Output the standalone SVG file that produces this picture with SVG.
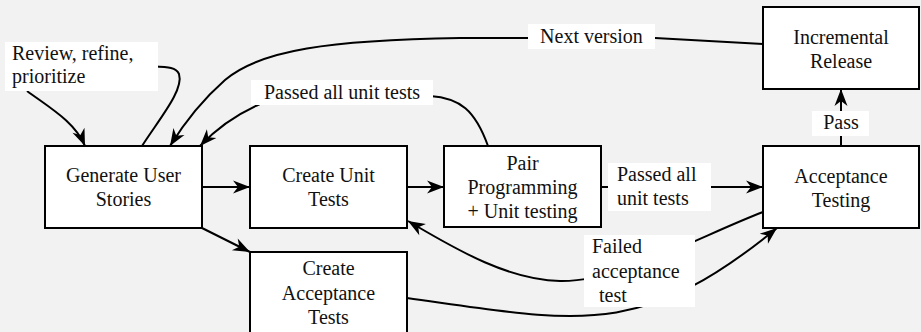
<svg xmlns="http://www.w3.org/2000/svg" width="921" height="332" viewBox="0 0 921 332">
<style>
.box{fill:#fff;stroke:#000;stroke-width:2}
.lbl{fill:#fff;stroke:none}
.c{text-anchor:middle}
.ln{fill:none;stroke:#000;stroke-width:2}
.arr{fill:none;stroke:#000;stroke-width:2;marker-end:url(#ah)}
</style>
<defs>
<marker id="ah" markerUnits="userSpaceOnUse" markerWidth="18" markerHeight="14" refX="17" refY="7" orient="auto" overflow="visible">
<path d="M0,0.5 L17,7 L0,13.5 L5,7 z" fill="#000"/>
</marker>
</defs>
<rect x="0" y="0" width="921" height="332" fill="#f2f2f2"/>
<g id="connectors">
<path class="arr" d="M202,187 L250,187"/>
<path class="arr" d="M407,187 L444,187"/>
<path class="arr" d="M601,187 L763,187"/>
<path class="arr" d="M202,228 L250,252"/>
<path class="arr" d="M407,298 C580,322 640,340 777,228"/>
<path class="arr" d="M763,212 C700,236 620,282 560,281 C510,280 460,252 408,221"/>
<path class="arr" d="M488,146 C475,110 460,98 430,96 L260,104 C235,115 215,130 200,146"/>
<path class="arr" d="M763,44 L655,38 L460,38 C330,40 260,50 225,80 C200,102 183,125 170,146"/>
<path class="ln" d="M142,146 C160,118 184,90 179,74 C176,67 168,67 150,66"/>
<path class="arr" d="M27,91 C50,108 75,122 85,146"/>
<path class="arr" d="M841,146 L841,89"/>
</g>
<g font-family="Liberation Serif, Times New Roman, DejaVu Serif, serif" font-size="20" fill="#111">
<g id="label-review">
<rect class="lbl" x="5" y="42" width="153" height="49"/>
<text x="12" y="60">Review, refine,</text>
<text x="12" y="83">prioritize</text>
</g>
<g id="label-passed1">
<rect class="lbl" x="251" y="80" width="182" height="25"/>
<text x="342" y="99" class="c">Passed all unit tests</text>
</g>
<g id="label-next">
<rect class="lbl" x="528" y="24" width="127" height="25"/>
<text x="591.5" y="43" class="c">Next version</text>
</g>
<g id="label-pass">
<rect class="lbl" x="812" y="111" width="57" height="25"/>
<text x="841" y="129" class="c">Pass</text>
</g>
<g id="label-passed2">
<rect class="lbl" x="608" y="163" width="103" height="48"/>
<text x="617" y="181">Passed all</text>
<text x="617" y="205">unit tests</text>
</g>
<g id="label-failed">
<rect class="lbl" x="584" y="235" width="111" height="72"/>
<text x="592" y="253">Failed</text>
<text x="592" y="278">acceptance</text>
<text x="599" y="302">test</text>
</g>
<g id="node-gus">
<rect class="box" x="45" y="146" width="157" height="82"/>
<text x="123.5" y="182" class="c">Generate User</text>
<text x="123.5" y="206" class="c">Stories</text>
</g>
<g id="node-cut">
<rect class="box" x="250" y="146" width="157" height="82"/>
<text x="328.5" y="182" class="c">Create Unit</text>
<text x="328.5" y="206" class="c">Tests</text>
</g>
<g id="node-pp">
<rect class="box" x="444" y="146" width="157" height="81"/>
<text x="522.5" y="170" class="c">Pair</text>
<text x="522.5" y="194" class="c">Programming</text>
<text x="522.5" y="218" class="c">+ Unit testing</text>
</g>
<g id="node-at">
<rect class="box" x="763" y="146" width="156" height="82"/>
<text x="841" y="183" class="c">Acceptance</text>
<text x="841" y="207" class="c">Testing</text>
</g>
<g id="node-ir">
<rect class="box" x="763" y="7" width="156" height="82"/>
<text x="841" y="44" class="c">Incremental</text>
<text x="841" y="68" class="c">Release</text>
</g>
<g id="node-cat">
<rect class="box" x="250" y="252" width="157" height="82"/>
<text x="328.5" y="275" class="c">Create</text>
<text x="328.5" y="300" class="c">Acceptance</text>
<text x="328.5" y="324" class="c">Tests</text>
</g>
</g>
</svg>
